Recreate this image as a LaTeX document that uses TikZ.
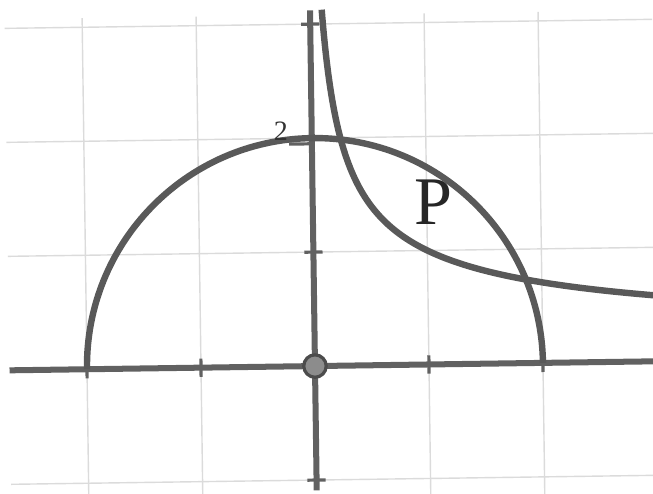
\documentclass[tikz,border=0pt]{standalone}
\usepackage{fontspec}
\setmainfont{Liberation Serif}
\begin{document}
\begin{tikzpicture}[
  gridline/.style={draw=black!14, line width=0.35pt},
  curve/.style={draw=black!65, line width=1.6pt},
  axisline/.style={draw=black!62, line width=1.5pt},
  tickmark/.style={draw=black!62, line width=0.8pt}
]
\useasboundingbox (-2.763,-1.114) rectangle (2.965,3.211);
\begin{scope}[rotate=0.8]
% grid
\foreach \gx in {-2,-1,1,2}
  \draw[gridline] (\gx,-1.15) -- (\gx,3.08);
\foreach \gy in {-1,1,2,3}
  \draw[gridline] (-2.68,\gy) -- (3.0,\gy);
% axes
\coordinate (xl) at (-2.68,0);
\coordinate (xr) at (3.0,0);
\coordinate (yb) at (0,-1.09);
\coordinate (yt) at (0,3.12);
\draw[axisline] (xl) -- (xr);
\draw[axisline] (yb) -- (yt);
% ticks
\foreach \tx in {-2,-1,1,2}
  \draw[tickmark] (\tx,-0.08) -- (\tx,0.08);
\foreach \ty in {-1,1,3}
  \draw[tickmark] (-0.08,\ty) -- (0.08,\ty);
\draw[tickmark] (-0.2,1.95) -- (-0.02,1.95);
% semicircle
\draw[curve] (2,0) arc[start angle=0, end angle=180, radius=2];
% curve y = 1/sqrt(x)
\draw[curve] plot[domain=0.32:1.73, samples=120, smooth, variable=\t] ({\t*\t},{1/\t});
% origin
\node[circle, fill=black!45, draw=black!70, line width=0.8pt, inner sep=0pt, minimum size=5.6pt] (o) at (0,0) {};
% labels
\node[font=\fontsize{7}{8}\selectfont, text=black!80, inner sep=0pt] (two) at (-0.27,2.06) {2};
\node[font=\fontsize{17}{18}\selectfont, text=black!85, inner sep=0pt] (p) at (1.06,1.42) {P};
\end{scope}
\end{tikzpicture}
\end{document}
